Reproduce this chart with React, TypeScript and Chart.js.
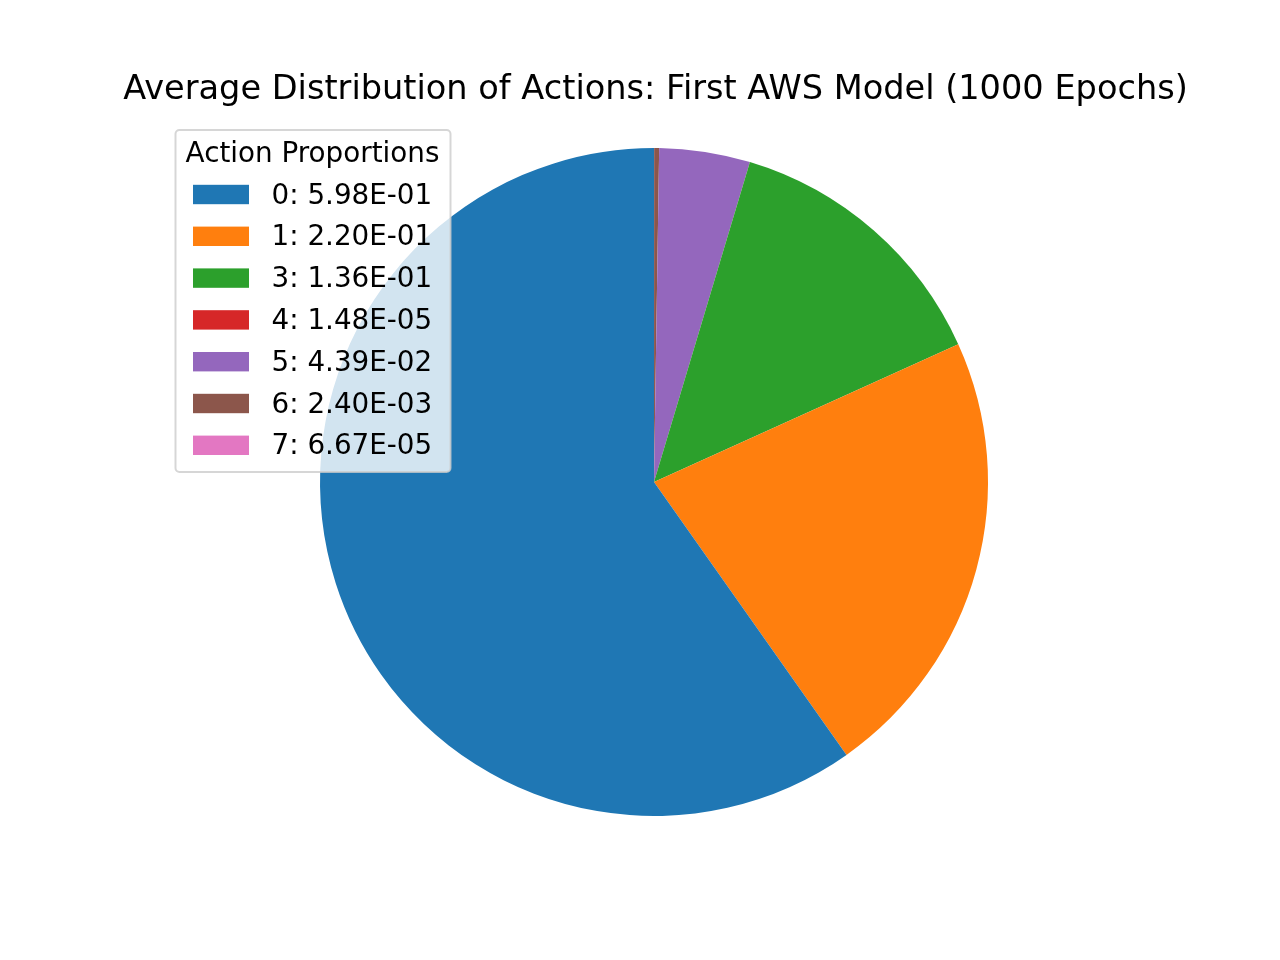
import React, { useEffect, useRef } from "react";
import { Chart, registerables } from "chart.js";

Chart.register(...registerables);

const chartTitle = "Average Distribution of Actions: First AWS Model (1000 Epochs)";
const legendTitle = "Action Proportions";
const actionLabels = ["0", "1", "3", "4", "5", "6", "7"];
const proportions = [5.98e-1, 2.2e-1, 1.36e-1, 1.48e-5, 4.39e-2, 2.4e-3, 6.67e-5];
const sliceColors = ["#1f77b4", "#ff7f0e", "#2ca02c", "#d62728", "#9467bd", "#8c564b", "#e377c2"];

const FONT = "'DejaVu Sans', 'Liberation Sans', sans-serif";

function formatSci(v: number): string {
  const [m, e] = v.toExponential(2).split("e");
  const sign = e.startsWith("-") ? "-" : "+";
  const digits = e.replace(/[+-]/, "").padStart(2, "0");
  return `${m}E${sign}${digits}`;
}

const titlePlugin = {
  id: "mplTitle",
  afterDraw(chart: any) {
    const ctx = chart.ctx as CanvasRenderingContext2D;
    ctx.save();
    ctx.fillStyle = "#000";
    ctx.font = `33.6px ${FONT}`;
    ctx.textAlign = "center";
    ctx.textBaseline = "alphabetic";
    ctx.fillText(chartTitle, 655.5, 99);
    ctx.restore();
  },
};

const legendPlugin = {
  id: "mplLegend",
  afterDraw(chart: any) {
    const ctx = chart.ctx as CanvasRenderingContext2D;
    ctx.save();
    const x = 175.5, y = 130, w = 275, h = 342, r = 4;
    ctx.beginPath();
    ctx.moveTo(x + r, y);
    ctx.lineTo(x + w - r, y);
    ctx.arcTo(x + w, y, x + w, y + r, r);
    ctx.lineTo(x + w, y + h - r);
    ctx.arcTo(x + w, y + h, x + w - r, y + h, r);
    ctx.lineTo(x + r, y + h);
    ctx.arcTo(x, y + h, x, y + h - r, r);
    ctx.lineTo(x, y + r);
    ctx.arcTo(x, y, x + r, y, r);
    ctx.closePath();
    ctx.fillStyle = "rgba(255,255,255,0.8)";
    ctx.fill();
    ctx.lineWidth = 2;
    ctx.strokeStyle = "rgba(204,204,204,0.8)";
    ctx.stroke();

    ctx.fillStyle = "#000";
    ctx.font = `27.8px ${FONT}`;
    ctx.textAlign = "center";
    ctx.textBaseline = "alphabetic";
    ctx.fillText(legendTitle, 312.5, 161.5);

    ctx.textAlign = "left";
    actionLabels.forEach((lab, i) => {
      const cy = 194.5 + 41.8 * i;
      ctx.fillStyle = sliceColors[i];
      ctx.fillRect(193, cy - 9.7, 56, 19.4);
      ctx.fillStyle = "#000";
      ctx.fillText(`${lab}: ${formatSci(proportions[i])}`, 271.5, cy + 9);
    });
    ctx.restore();
  },
};

export default function App() {
  const ref = useRef<HTMLCanvasElement | null>(null);
  useEffect(() => {
    if (!ref.current) return;
    // matplotlib draws counter-clockwise from 90deg; Chart.js draws clockwise from top,
    // so the slice order is reversed.
    const labelsRev = [...actionLabels].reverse();
    const dataRev = [...proportions].reverse();
    const colorsRev = [...sliceColors].reverse();
    const chart = new Chart(ref.current, {
      type: "pie",
      data: {
        labels: labelsRev,
        datasets: [
          {
            data: dataRev,
            backgroundColor: colorsRev,
            borderWidth: 0,
          },
        ],
      },
      options: {
        animation: false,
        responsive: true,
        maintainAspectRatio: false,
        rotation: 0,
        layout: { padding: { left: 320, right: 292, top: 148, bottom: 144 } },
        plugins: {
          legend: { display: false },
          tooltip: { enabled: false },
          title: { display: false },
        },
      },
      plugins: [titlePlugin, legendPlugin],
    });
    return () => chart.destroy();
  }, []);
  return (
    <div style={{ position: "absolute", left: 0, top: 0, width: 1280, height: 960, background: "#fff" }}>
      <canvas ref={ref} />
    </div>
  );
}
